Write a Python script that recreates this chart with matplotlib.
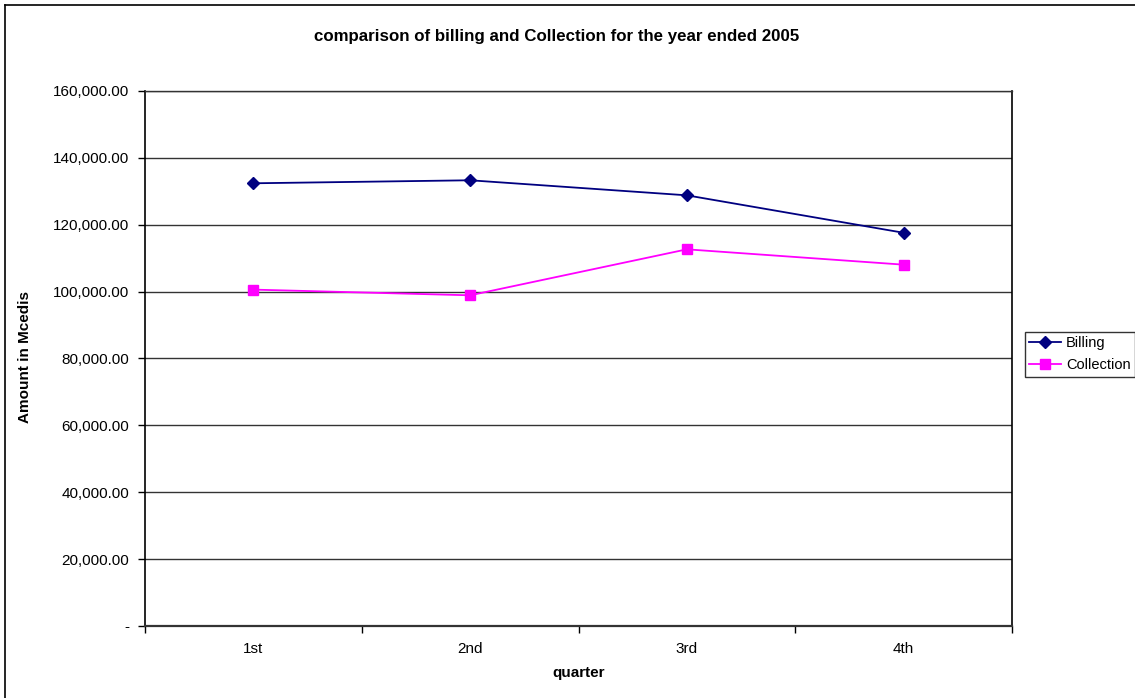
import matplotlib
matplotlib.use("Agg")
import matplotlib.pyplot as plt
from matplotlib.lines import Line2D
from matplotlib.ticker import FuncFormatter, FixedLocator

plt.rcParams['font.family'] = ['Liberation Sans', 'DejaVu Sans']

quarters = ["1st", "2nd", "3rd", "4th"]
billing = [132400, 133300, 128800, 117600]
collection = [100600, 98900, 112650, 108060]
y_ticks = [0, 20000, 40000, 60000, 80000, 100000, 120000, 140000, 160000]

W, H = 1135, 698
fig = plt.figure(figsize=(W / 100, H / 100), dpi=100)
fig.patch.set_facecolor("white")

# plot area in pixel coordinates
left, right, top, bottom = 145, 1012, 91, 626
ax = fig.add_axes([left / W, (H - bottom) / H, (right - left) / W, (bottom - top) / H])

x = list(range(len(quarters)))
ax.plot(x, billing, color="#000080", lw=1.3, marker="D", ms=6,
        mfc="#000080", mec="#000080", label="Billing", zorder=3)
ax.plot(x, collection, color="#FF00FF", lw=1.3, marker="s", ms=7,
        mfc="#FF00FF", mec="#FF00FF", label="Collection", zorder=3)

ax.set_xlim(-0.5, len(quarters) - 0.5)
ax.set_ylim(0, 160000)

ax.yaxis.set_major_locator(FixedLocator(y_ticks))
ax.yaxis.set_major_formatter(FuncFormatter(lambda v, p: "-" if v == 0 else f"{v:,.2f}"))
ax.grid(axis="y", color="#333333", lw=1.0)
ax.set_axisbelow(True)

ax.set_xticks(x)
ax.set_xticklabels(quarters)
ax.set_xticks([i - 0.5 for i in range(len(quarters) + 1)], minor=True)
ax.tick_params(axis="x", which="major", length=0, pad=11.5, labelsize=11)
ax.tick_params(axis="x", which="minor", length=5, width=1, color="black", direction="out")
ax.tick_params(axis="y", which="major", length=5, width=1, color="black",
               direction="out", pad=6.5, labelsize=11)

for s in ("left", "right"):
    ax.spines[s].set_color("black")
    ax.spines[s].set_linewidth(1.2)
ax.spines["bottom"].set_color("#333333")
ax.spines["bottom"].set_linewidth(1.6)
ax.spines["top"].set_color("#333333")
ax.spines["top"].set_linewidth(1.0)

ax.set_xlabel("quarter", fontsize=11, fontweight="bold", labelpad=7)
fig.text(25 / W, 1 - 357 / H, "Amount in Mcedis", rotation=90,
         ha="center", va="center", fontsize=11, fontweight="bold")

fig.text(557 / W, 1 - 36 / H, "comparison of billing and Collection for the year ended 2005",
         ha="center", va="center", fontsize=12.2, fontweight="bold")

leg = fig.legend(loc="upper left", bbox_to_anchor=(1025 / W, 1 - 332 / H),
                 bbox_transform=fig.transFigure, frameon=True, fancybox=False,
                 fontsize=10.5, handlelength=2.2, handletextpad=0.3,
                 borderpad=0.3, labelspacing=0.55, borderaxespad=0)
leg.get_frame().set_edgecolor("black")
leg.get_frame().set_linewidth(1.0)

# outer chart border (left and top edges)
fig.add_artist(Line2D([5 / W, 5 / W], [0, 1 - 5 / H], transform=fig.transFigure,
                      color="black", lw=1.2))
fig.add_artist(Line2D([5 / W, 1], [1 - 5 / H, 1 - 5 / H], transform=fig.transFigure,
                      color="black", lw=1.2))

fig.savefig("out.png", dpi=100)
